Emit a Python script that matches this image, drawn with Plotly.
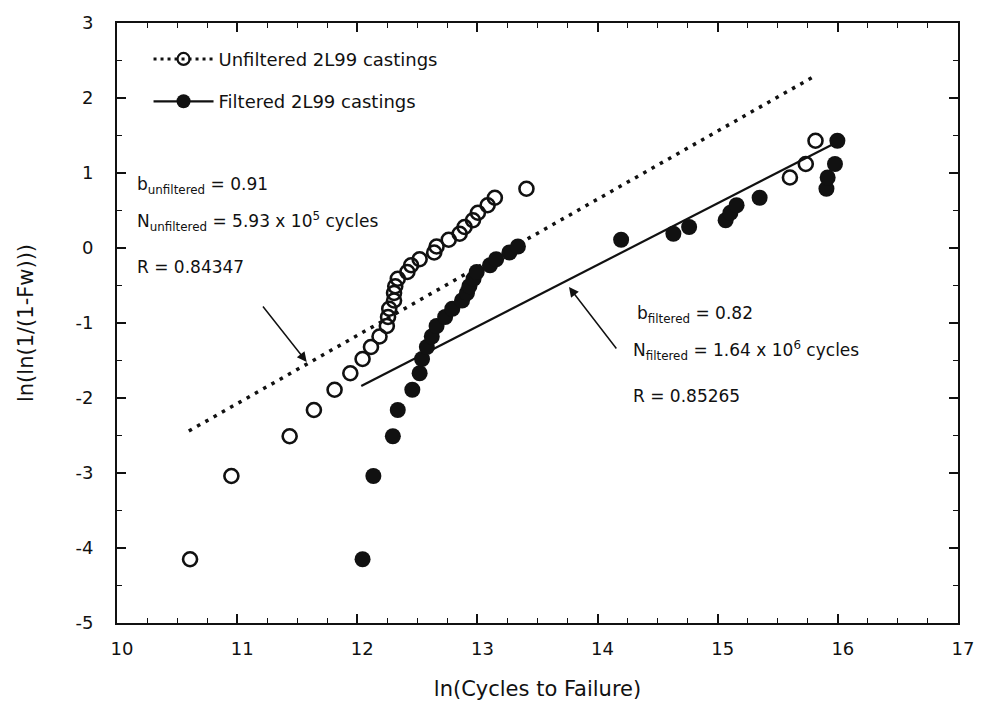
import plotly.graph_objects as go

# ---- data ----
unfiltered_x = [10.608, 10.952, 11.437, 11.639, 11.811, 11.942, 12.044, 12.114, 12.185, 12.246,
                12.256, 12.266, 12.306, 12.306, 12.316, 12.337, 12.417, 12.448, 12.519, 12.640,
                12.660, 12.761, 12.852, 12.893, 12.963, 13.004, 13.085, 13.145, 13.408, 15.601,
                15.733, 15.814]
unfiltered_y = [-4.15, -3.04, -2.51, -2.16, -1.89, -1.67, -1.48, -1.32, -1.18, -1.04,
                -0.92, -0.81, -0.70, -0.60, -0.51, -0.41, -0.32, -0.23, -0.15, -0.06,
                0.02, 0.11, 0.19, 0.28, 0.37, 0.47, 0.57, 0.67, 0.79, 0.94,
                1.12, 1.43]
filtered_x = [12.044, 12.134, 12.296, 12.337, 12.458, 12.519, 12.539, 12.579, 12.620, 12.660,
              12.731, 12.791, 12.872, 12.913, 12.933, 12.968, 12.994, 13.105, 13.156, 13.266,
              13.337, 14.196, 14.631, 14.762, 15.066, 15.106, 15.157, 15.349, 15.905, 15.915,
              15.976, 15.996]
filtered_y = [-4.15, -3.04, -2.51, -2.16, -1.89, -1.67, -1.48, -1.32, -1.18, -1.04,
              -0.92, -0.81, -0.70, -0.60, -0.51, -0.41, -0.32, -0.23, -0.15, -0.06,
              0.02, 0.11, 0.19, 0.28, 0.37, 0.47, 0.57, 0.67, 0.79, 0.94,
              1.12, 1.43]
unfiltered_fit_x = [10.598, 15.793]
unfiltered_fit_y = [-2.44, 2.28]
filtered_fit_x = [12.033, 15.955]
filtered_fit_y = [-1.84, 1.38]

x_ticks = [10, 11, 12, 13, 14, 15, 16, 17]
y_ticks = [-5, -4, -3, -2, -1, 0, 1, 2, 3]

FONT = "DejaVu Sans, Liberation Sans, Arial, sans-serif"
BLACK = "#111111"

fig = go.Figure()

# fit lines
fig.add_trace(go.Scatter(x=unfiltered_fit_x, y=unfiltered_fit_y, mode="lines",
                         line=dict(color=BLACK, width=3.5, dash="3.5px,6px"),
                         showlegend=False, hoverinfo="skip"))
fig.add_trace(go.Scatter(x=filtered_fit_x, y=filtered_fit_y, mode="lines",
                         line=dict(color=BLACK, width=2.2),
                         showlegend=False, hoverinfo="skip"))

# data points
fig.add_trace(go.Scatter(x=unfiltered_x, y=unfiltered_y, mode="markers",
                         marker=dict(symbol="circle-open", size=14, color=BLACK,
                                     line=dict(width=2.6, color=BLACK)),
                         showlegend=False))
fig.add_trace(go.Scatter(x=filtered_x, y=filtered_y, mode="markers",
                         marker=dict(symbol="circle", size=16, color=BLACK),
                         showlegend=False))

# legend entries
fig.add_trace(go.Scatter(x=[None], y=[None], mode="lines+markers",
                         name="Unfiltered 2L99 castings", legendgroup="a",
                         line=dict(color=BLACK, width=3, dash="3px,4px"),
                         marker=dict(symbol="circle-open", size=12, color=BLACK,
                                     line=dict(width=2.2, color=BLACK))))
fig.add_trace(go.Scatter(x=[None], y=[None], mode="lines+markers",
                         name="Filtered 2L99 castings", legendgroup="b",
                         line=dict(color=BLACK, width=2.2),
                         marker=dict(symbol="circle", size=14, color=BLACK)))

ann_font = dict(family=FONT, size=17, color=BLACK)
annotations = [
    dict(x=10.15, y=0.84, text="b<sub>unfiltered</sub> = 0.91"),
    dict(x=10.15, y=0.35, text="N<sub>unfiltered</sub> = 5.93 x 10<sup>5</sup> cycles"),
    dict(x=10.15, y=-0.25, text="R = 0.84347"),
    dict(x=14.31, y=-0.885, text="b<sub>filtered</sub> = 0.82"),
    dict(x=14.28, y=-1.37, text="N<sub>filtered</sub> = 1.64 x 10<sup>6</sup> cycles"),
    dict(x=14.28, y=-1.975, text="R = 0.85265"),
]
for a in annotations:
    fig.add_annotation(x=a["x"], y=a["y"], text=a["text"], showarrow=False,
                       xanchor="left", yanchor="middle", font=ann_font)

# arrows
fig.add_annotation(x=11.579, y=-1.52, ax=11.205, ay=-0.76, axref="x", ayref="y",
                   xref="x", yref="y", showarrow=True, arrowhead=2, arrowsize=1.3,
                   arrowwidth=1.5, arrowcolor=BLACK, text="")
fig.add_annotation(x=13.762, y=-0.52, ax=14.166, ay=-1.36, axref="x", ayref="y",
                   xref="x", yref="y", showarrow=True, arrowhead=2, arrowsize=1.3,
                   arrowwidth=1.5, arrowcolor=BLACK, text="")

axis_common = dict(showline=True, linecolor=BLACK, linewidth=2, mirror="allticks",
                   ticks="inside", ticklen=9, tickwidth=1.5, tickcolor=BLACK,
                   showgrid=False, zeroline=False,
                   tickfont=dict(family=FONT, size=18, color=BLACK))

fig.update_xaxes(range=[10, 17], tickvals=x_ticks, ticktext=[str(v) for v in x_ticks],
                 minor=dict(dtick=0.25, tick0=10, ticks="inside", ticklen=5,
                            tickcolor=BLACK, tickwidth=1.2),
                 title=dict(text="ln(Cycles to Failure)", standoff=24,
                            font=dict(family=FONT, size=21, color=BLACK)),
                 ticklabelstandoff=8, ticklabelshift=5,
                 **axis_common)
fig.update_yaxes(range=[-5, 3], tickvals=y_ticks, ticktext=[str(v) for v in y_ticks],
                 minor=dict(dtick=0.5, tick0=-5, ticks="inside", ticklen=5,
                            tickcolor=BLACK, tickwidth=1.2),
                 title=dict(text="ln(ln(1/(1-Fw)))", standoff=36,
                            font=dict(family=FONT, size=21, color=BLACK)),
                 ticklabelstandoff=18,
                 **axis_common)

fig.update_layout(
    width=986, height=711,
    margin=dict(l=117, r=17, t=23, b=88),
    paper_bgcolor="white", plot_bgcolor="white",
    font=dict(family=FONT, color=BLACK),
    legend=dict(x=0.0375, y=0.9705, xanchor="left", yanchor="top",
                bgcolor="rgba(0,0,0,0)", font=dict(family=FONT, size=18, color=BLACK),
                tracegroupgap=16, itemwidth=60),
)

page_fix = ("document.documentElement.style.margin='0';"
            "document.body.style.margin='0';document.body.style.padding='0';"
            "document.documentElement.style.overflow='hidden';"
            "document.body.style.overflow='hidden';")

fig.write_html("out.html", post_script=page_fix, config={"displayModeBar": False})
